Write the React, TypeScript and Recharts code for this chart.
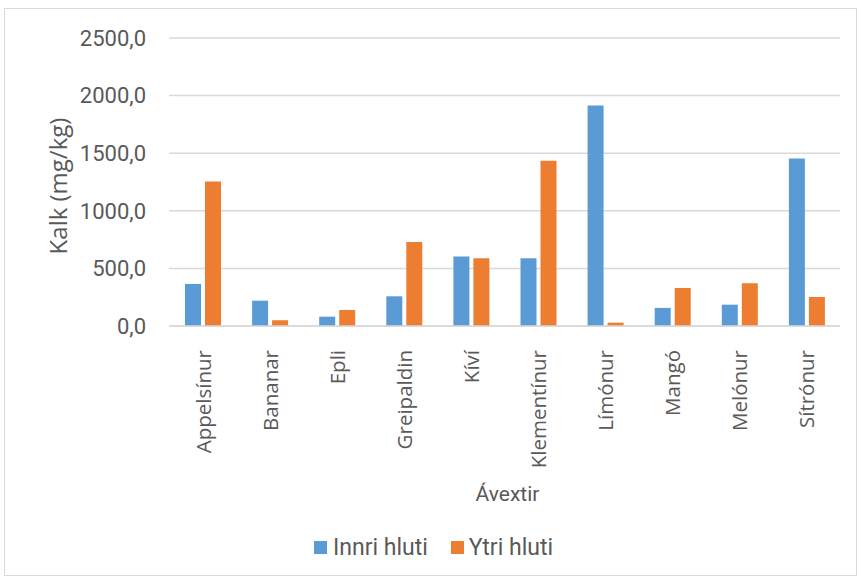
import React from 'react';
import {
  BarChart,
  Bar,
  XAxis,
  YAxis,
  CartesianGrid,
  Label,
  Legend
} from 'recharts';

// Kalk (mg/kg) í innri og ytri hluta ávaxta
const fruits = [
  'Appelsínur',
  'Bananar',
  'Epli',
  'Greipaldin',
  'Kíví',
  'Klementínur',
  'Límónur',
  'Mangó',
  'Melónur',
  'Sítrónur'
];
const innerPart = [365, 220, 81, 258, 603, 589, 1913, 157, 185, 1455];
const outerPart = [1255, 50, 139, 730, 589, 1435, 29, 330, 371, 252];
const yTicks = [0, 500, 1000, 1500, 2000, 2500];

const BLUE = '#5B9BD5';
const ORANGE = '#ED7D31';
const TEXT = '#595959';

const data = fruits.map((name, i) => ({
  name,
  inner: innerPart[i],
  outer: outerPart[i]
}));

const formatTick = (v: number) => v.toFixed(1).replace('.', ',');

const FruitTick = (props: any) => {
  const { x, y, payload } = props;
  const ty = y + 16;
  return (
    <text
      x={x}
      y={ty}
      transform={`rotate(-90 ${x} ${ty})`}
      textAnchor="end"
      dominantBaseline="central"
      fill={TEXT}
      fontSize={20.5}
      fontFamily="'Open Sans', sans-serif"
    >
      {payload.value}
    </text>
  );
};

const LegendBox = () => (
  <div
    style={{
      display: 'flex',
      justifyContent: 'center',
      gap: 23,
      paddingLeft: 22,
      fontFamily: 'Roboto, sans-serif',
      fontSize: 23,
      color: TEXT,
      height: 28,
      alignItems: 'center'
    }}
  >
    <span style={{ display: 'flex', alignItems: 'center' }}>
      <span style={{ width: 13, height: 13, background: BLUE, marginRight: 6 }} />
      Innri hluti
    </span>
    <span style={{ display: 'flex', alignItems: 'center' }}>
      <span style={{ width: 13, height: 13, background: ORANGE, marginRight: 5 }} />
      Ytri hluti
    </span>
  </div>
);

export default function App() {
  return (
    <div
      style={{
        position: 'absolute',
        left: 4,
        top: 8,
        width: 853,
        height: 568,
        border: '1px solid #d9d9d9',
        boxSizing: 'border-box',
        background: '#fff'
      }}
    >
      <BarChart
        width={851}
        height={566}
        data={data}
        margin={{ top: 29, right: 16, left: 0, bottom: 14 }}
        barCategoryGap={16}
        barGap={4}
      >
        <CartesianGrid vertical={false} stroke="#d9d9d9" strokeWidth={1.5} />
        <YAxis
          width={164}
          domain={[0, 2500]}
          ticks={yTicks}
          tickFormatter={formatTick}
          axisLine={false}
          tickLine={false}
          tickSize={0}
          tickMargin={23}
          tick={{ fill: TEXT, fontSize: 22, fontFamily: 'Roboto, sans-serif' }}
        >
          <Label
            content={(p: any) => {
              const vb = p.viewBox;
              const cx = 52;
              const cy = vb.y + vb.height / 2 + 4;
              return (
                <text
                  x={cx}
                  y={cy}
                  transform={`rotate(-90 ${cx} ${cy})`}
                  textAnchor="middle"
                  dominantBaseline="central"
                  fill={TEXT}
                  fontSize={24}
                  fontFamily="'Open Sans', sans-serif"
                >
                  Kalk (mg/kg)
                </text>
              );
            }}
          />
        </YAxis>
        <XAxis
          dataKey="name"
          height={207}
          interval={0}
          axisLine={{ stroke: '#d9d9d9', strokeWidth: 1.5 }}
          tickLine={false}
          tick={<FruitTick />}
        >
          <Label
            content={(p: any) => {
              const vb = p.viewBox;
              return (
                <text
                  x={vb.x + vb.width / 2 + 3}
                  y={vb.y + 168}
                  textAnchor="middle"
                  dominantBaseline="central"
                  fill={TEXT}
                  fontSize={21}
                  fontFamily="Roboto, sans-serif"
                >
                  Ávextir
                </text>
              );
            }}
          />
        </XAxis>
        <Legend verticalAlign="bottom" content={<LegendBox />} />
        <Bar dataKey="inner" name="Innri hluti" fill={BLUE} isAnimationActive={false} />
        <Bar dataKey="outer" name="Ytri hluti" fill={ORANGE} isAnimationActive={false} />
      </BarChart>
    </div>
  );
}
